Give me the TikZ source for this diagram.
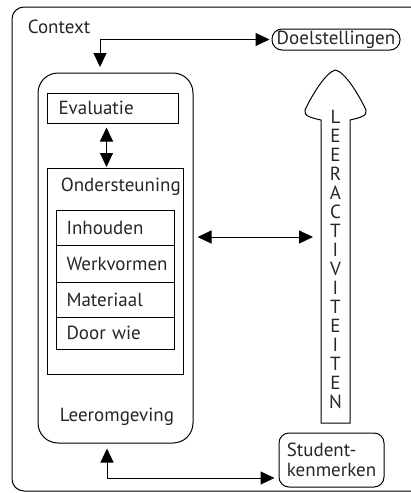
\documentclass[tikz,border=0pt]{standalone}
\usepackage{fontspec}
\setmainfont{PT Sans}
\usetikzlibrary{arrows.meta}
\begin{document}
\begin{tikzpicture}[x=1pt,y=-1pt,
  line width=1pt,
  every node/.style={font=\fontsize{19}{20}\selectfont, text=black!85},
  box/.style={draw, rectangle, inner ysep=0pt, inner xsep=10pt, align=left, anchor=west},
  rbox/.style={draw, rounded corners=10pt, inner sep=0pt},
  dtip/.style={{Triangle[length=14pt,width=13pt]}-{Triangle[length=14pt,width=13pt]}},
]
\useasboundingbox (0,0) rectangle (410,493);
% context frame
\draw[rounded corners=12pt] (411,7) -- (12,7) -- (12,491) -- (411,491);
\node[anchor=base west] (ctx) at (24,33) {Context};

% goals
\node[rbox, minimum width=128pt, minimum height=21pt] (doel) at (336,39.5) {Doelstellingen};

% learning environment
\node[draw, rounded corners=20pt, minimum width=155pt, minimum height=370pt] (leer) at (115.5,258) {};
\node[anchor=base] (leert) at (117,421) {Leeromgeving};

\node[box, text width=109pt, inner xsep=11pt, minimum height=30pt] (eval) at (47,108) {Evaluatie};

\node[draw, minimum width=136pt, minimum height=206pt, anchor=north west, inner sep=0pt] (onder) at (47,168) {};
\node[anchor=base west] (ondert) at (57,191) {Ondersteuning};

\node[box, text width=98pt, minimum height=35pt] (inh) at (56,227.5) {Inhouden};
\node[box, text width=98pt, minimum height=37pt] (werk) at (56,263.5) {Werkvormen};
\node[box, text width=98pt, minimum height=35pt] (mat) at (56,299.5) {Materiaal};
\node[box, text width=98pt, minimum height=32pt] (door) at (56,333) {Door wie};

% student characteristics
\node[rbox, minimum width=105pt, minimum height=54pt, align=left] (stud) at (331.5,460) {Student-\\kenmerken};

% big arrow: leeractiviteiten
\draw (321,423) -- (321,120) .. controls (312,118) and (303,116) .. (305,110)
  .. controls (312,95) and (326,72) .. (335.5,70)
  .. controls (345,72) and (359,95) .. (366,110)
  .. controls (368,116) and (359,118) .. (350,120) -- (350,423) -- cycle;
\foreach \l [count=\i] in {L,E,E,R,A,C,T,I,V,I,T,E,I,T,E,N}
  \node[anchor=base, inner sep=0pt] (la\i) at (335.5,104+19*\i) {\l};
\coordinate (shaft) at (321,237);

% connectors
\coordinate (dn) at (100,67);
\draw[dtip, shorten <=2pt] (doel.west) -| (dn);
\draw[dtip, shorten <=4pt, shorten >=1pt] ([xshift=-6.5pt]eval.south) -- ([xshift=-9pt]onder.north);
\draw[dtip, shorten <=4pt, shorten >=8pt] ([yshift=21pt]leer.east) -- (shaft);
\draw[dtip, shorten <=5pt, shorten >=4pt] ([xshift=-8.5pt]leer.south) |- ([yshift=-18pt]stud.west);
\end{tikzpicture}
\end{document}
